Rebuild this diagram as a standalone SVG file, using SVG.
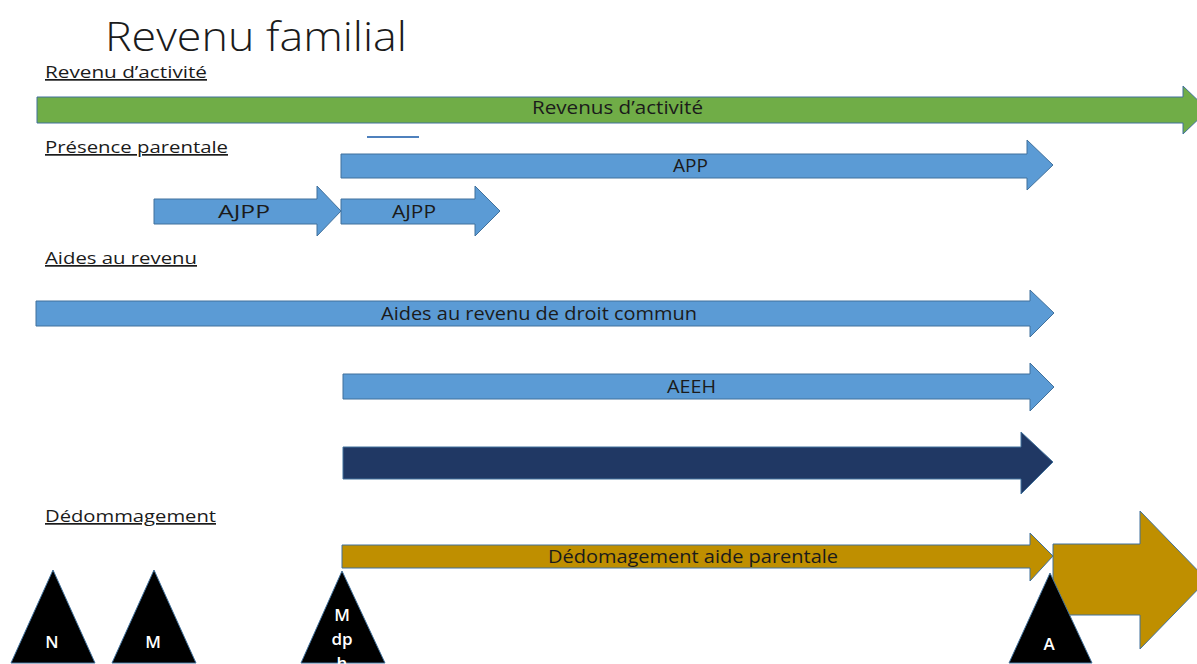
<svg xmlns="http://www.w3.org/2000/svg" width="1197" height="664" viewBox="0 0 1197 664">
<style>
.t{font-family:"Open Sans","Noto Sans","Liberation Sans",sans-serif;font-size:18px;fill:#1b1b1b}
.h{font-family:"Open Sans","Noto Sans","Liberation Sans",sans-serif;font-size:17px;fill:#1b1b1b;text-decoration:underline}
.w{font-family:"Open Sans","Noto Sans","Liberation Sans",sans-serif;font-size:17px;fill:#ffffff;text-anchor:middle;font-weight:600}
.ttl{font-family:"Open Sans","Noto Sans","Liberation Sans",sans-serif;font-size:41px;font-weight:300;fill:#1b1b1b}
.blue{fill:#5B9BD5;stroke:#41719C;stroke-width:1}
.green{fill:#70AD47;stroke:#41719C;stroke-width:1}
.navy{fill:#203864;stroke:#41719C;stroke-width:1}
.gold{fill:#BF8F00;stroke:#41719C;stroke-width:1}
.tri{fill:#000000;stroke:#41719C;stroke-width:1}
</style>
<rect width="1197" height="664" fill="#ffffff"/>
<g id="title"><text class="ttl" x="105" y="51" textLength="302" lengthAdjust="spacingAndGlyphs">Revenu familial</text></g>
<g id="headers">
<text class="h" x="45" y="78" textLength="162" lengthAdjust="spacingAndGlyphs">Revenu d’activité</text>
<text class="h" x="45" y="153" textLength="183" lengthAdjust="spacingAndGlyphs">Présence parentale</text>
<text class="h" x="45" y="264" textLength="152" lengthAdjust="spacingAndGlyphs">Aides au revenu</text>
<text class="h" x="45" y="522" textLength="171" lengthAdjust="spacingAndGlyphs">Dédommagement</text>
</g>
<g id="connectors">
<line x1="367" y1="137" x2="419" y2="137" stroke="#4F81BD" stroke-width="2"/>
</g>
<g id="revenus-activite">
<path class="green" d="M37,97 H1183 V86 L1208,110 L1183,134 V123 H37 Z"/>
<text class="t" x="532" y="114" textLength="171" lengthAdjust="spacingAndGlyphs">Revenus d’activité</text>
</g>
<g id="app">
<path class="blue" d="M341,154 H1027 V140 L1053,165 L1027,190 V178 H341 Z"/>
<text class="t" x="673" y="172" textLength="35" lengthAdjust="spacingAndGlyphs">APP</text>
</g>
<g id="ajpp1">
<path class="blue" d="M154,199 H317 V186 L341,211 L317,236 V224 H154 Z"/>
<text class="t" x="218" y="218" textLength="52" lengthAdjust="spacingAndGlyphs">AJPP</text>
</g>
<g id="ajpp2">
<path class="blue" d="M341,199 H475 V186 L500,211 L475,236 V224 H341 Z"/>
<text class="t" x="392" y="218" textLength="44" lengthAdjust="spacingAndGlyphs">AJPP</text>
</g>
<g id="aides-droit-commun">
<path class="blue" d="M36,301 H1030 V290 L1054,313 L1030,337 V326 H36 Z"/>
<text class="t" x="381" y="320" textLength="316" lengthAdjust="spacingAndGlyphs">Aides au revenu de droit commun</text>
</g>
<g id="aeeh">
<path class="blue" d="M343,374 H1030 V363 L1054,387 L1030,411 V399 H343 Z"/>
<text class="t" x="667" y="393" textLength="49" lengthAdjust="spacingAndGlyphs">AEEH</text>
</g>
<g id="navy-arrow">
<path class="navy" d="M343,447 H1021 V432 L1053,462 L1021,494 V479 H343 Z"/>
</g>
<g id="dedommagement">
<path class="gold" d="M342,545 H1030 V533 L1053,556 L1030,581 V568 H342 Z"/>
<text class="t" x="548" y="563" textLength="290" lengthAdjust="spacingAndGlyphs">Dédomagement aide parentale</text>
</g>
<g id="big-gold-arrow">
<path class="gold" d="M1053,544 H1140 V511 L1207,580 L1140,649 V615 H1053 Z"/>
</g>
<g id="tri-n">
<path class="tri" d="M53,570 L95,663 L11,663 Z"/>
<text class="w" x="52" y="648">N</text>
</g>
<g id="tri-m">
<path class="tri" d="M154,570 L196,663 L112,663 Z"/>
<text class="w" x="153" y="648">M</text>
</g>
<g id="tri-mdph">
<path class="tri" d="M342,571 L385,663 L301,663 Z"/>
<text class="w" x="342" y="621">M</text>
<text class="w" x="342" y="645">dp</text>
<text class="w" x="342" y="669">h</text>
</g>
<g id="tri-a">
<path class="tri" d="M1050,573 L1092,663 L1009,663 Z"/>
<text class="w" x="1049" y="650">A</text>
</g>
</svg>
